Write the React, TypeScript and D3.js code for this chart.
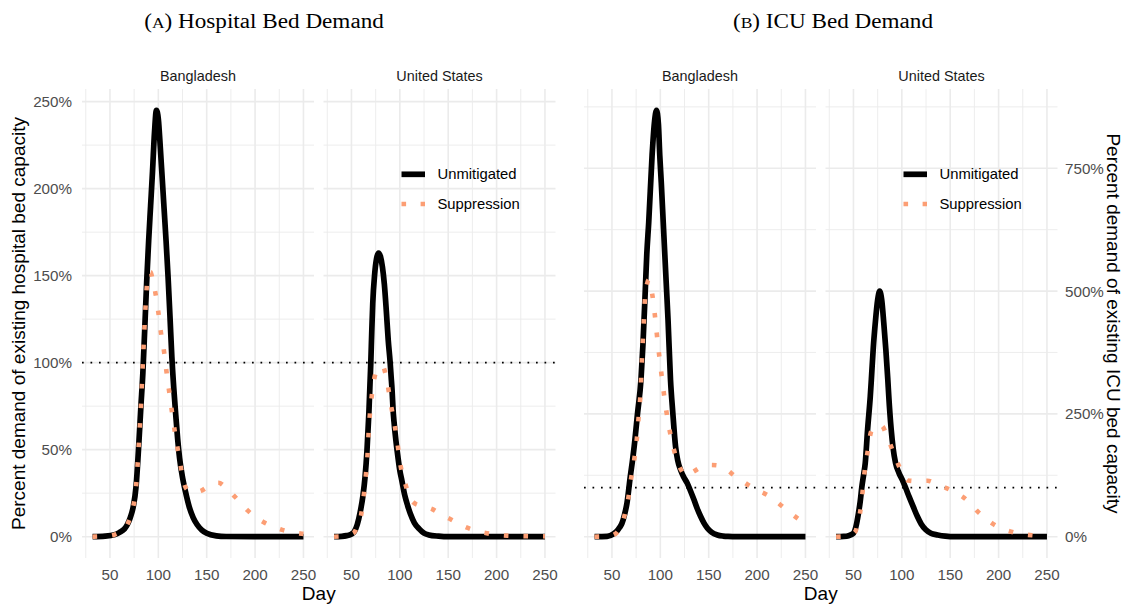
import React from "react";
import * as d3 from "d3";

// ---------------- DATA ----------------
const panelCountries = ["Bangladesh", "United States"];
const seriesNames = ["Unmitigated", "Suppression"];
const xTicks = [50, 100, 150, 200, 250];
const xMinorTicks = [25, 75, 125, 175, 225];
const hospYTicks = [0, 50, 100, 150, 200, 250];
const hospYMinor = [25, 75, 125, 175, 225];
const icuYTicks = [0, 250, 500, 750];
const icuYMinor = [125, 375, 625, 875];
const capacityLine = 100;

// (A) Hospital – Bangladesh – Unmitigated
const hospBgdUnmitDays = [32, 45, 55, 60, 65, 68, 71, 74, 77, 80, 82, 84, 86, 88, 90, 92, 94, 96, 98, 100, 102, 104, 106, 108, 110, 112, 114, 116, 118, 120, 122, 125, 128, 132, 136, 140, 145, 150, 160, 170, 200, 250];
const hospBgdUnmitPct = [0, 0.3, 1.2, 2.5, 4.5, 7, 11, 17, 29, 55, 75, 94, 120, 147, 170, 190, 210, 232, 245, 240, 224, 206, 188, 170, 150, 127, 103, 85, 70, 56, 45, 34, 26, 17, 11, 7, 3.8, 2, 0.5, 0.1, 0, 0];
// (A) Hospital – Bangladesh – Suppression
const hospBgdSuppDays = [32, 45, 55, 60, 65, 68, 71, 74, 77, 80, 82, 84, 86, 88, 90, 92, 94, 97, 100, 102.5, 106, 108.4, 111.2, 114, 117, 120.3, 123.7, 127, 131, 137, 144, 152, 162, 170, 178, 185, 192, 200, 209, 218, 228, 238, 248.5, 250];
const hospBgdSuppPct = [0, 0.3, 1.2, 2.5, 4.5, 7, 11, 17, 29, 55, 75, 100, 124, 143, 151, 152, 148, 140, 129, 118, 106, 95, 83.5, 72, 60.5, 49.5, 38.5, 30, 26.5, 25.5, 26.3, 29, 31, 28, 23.6, 19.5, 15.2, 11.5, 8.3, 6, 3.9, 2.6, 1.7, 1.6];
// (A) Hospital – United States – Unmitigated
const hospUsUnmitDays = [32, 40, 45, 50, 53, 56, 59, 62, 64, 66, 68, 70, 71, 72, 74, 76, 78, 80, 82, 84, 86, 88, 90, 91, 92, 93, 94, 96, 98, 100, 102, 105, 108, 111, 115, 120, 125, 130, 140, 150, 250];
const hospUsUnmitPct = [0, 0.2, 0.6, 1.5, 3, 7, 14, 24, 34, 49, 71, 100, 118, 134, 151, 160, 163, 161, 155, 145, 130, 113, 100, 92, 84, 73, 66, 55, 46, 38, 32.5, 24, 18, 13, 8, 4.5, 2, 1, 0.3, 0, 0];
// (A) Hospital – United States – Suppression
const hospUsSuppDays = [32, 40, 45, 50, 53, 56, 60, 62.8, 64.9, 66.6, 67.6, 69, 71.1, 74.3, 78, 82.3, 85, 87.5, 90.8, 94.6, 97.7, 100.5, 105.7, 109, 113.8, 123, 132.9, 142, 151, 160, 169.5, 180, 189.7, 200, 210.9, 231.4, 250];
const hospUsSuppPct = [0, 0.2, 0.6, 1.5, 2.5, 6, 12.5, 24, 35.5, 47, 58.5, 70, 81.5, 92.7, 97, 98, 94, 87, 75.8, 64.3, 53, 41.7, 30.3, 24.5, 19.8, 17.5, 16, 13, 10.4, 7.7, 5.2, 3.2, 2, 1.1, 0.6, 0.3, 0.2];

// (B) ICU – Bangladesh – Unmitigated
const icuBgdUnmitDays = [32, 45, 51.6, 55, 58, 60.3, 63, 65.5, 68.9, 71, 73, 76.5, 80, 82, 84.5, 86, 88, 91.5, 94, 96, 98, 99.4, 101, 103, 106.4, 108, 110.5, 112.9, 115.7, 118, 120.9, 124, 127.8, 131, 134.8, 138, 141.7, 145, 148.7, 153, 159, 165, 170, 180, 200, 250];
const icuBgdUnmitPct = [0, 0.5, 5.5, 11, 19, 27, 45, 68, 122, 152, 184, 252, 320, 390, 504, 575, 640, 777, 845, 868, 840, 777, 720, 640, 504, 440, 320, 252, 184, 155, 136, 122, 109, 94, 75, 58, 41, 28, 17, 9, 3.4, 1.2, 0.5, 0.1, 0, 0];
// (B) ICU – Bangladesh – Suppression
const icuBgdSuppDays = [32, 45, 53.4, 58, 62.7, 67.2, 70, 73.4, 75.9, 77.6, 79.3, 81.1, 82.7, 84.2, 86.3, 88.3, 90.3, 92.5, 94.9, 97, 99.4, 101.9, 104.6, 107.7, 111.6, 116.8, 121.5, 126.5, 134, 143.5, 152, 161.1, 169, 176.7, 185, 193.4, 202, 211.4, 219, 227.7, 236, 244, 250];
const icuBgdSuppPct = [0, 0.5, 5.5, 18, 41, 82, 121, 162, 203, 244, 285, 366, 430, 488, 515, 523, 508, 482, 441, 400.6, 359.7, 318.8, 278, 237, 197.6, 158, 136, 124, 132, 143, 146, 144.5, 136, 124, 113, 102, 93, 84, 73, 59, 46, 34, 26];
// (B) ICU – United States – Unmitigated
const icuUsUnmitDays = [32, 40, 45, 50, 52.5, 55.2, 57, 58.7, 60.5, 62.2, 64.6, 67.4, 68.5, 70.5, 72.6, 75, 77.1, 79.2, 81.3, 83.5, 85.5, 86.5, 89, 91, 93.5, 97, 100.4, 104, 107.4, 112, 116.1, 120, 124.8, 130, 137, 145, 150, 160, 250];
const icuUsUnmitPct = [0, 0.5, 2, 7, 20, 48, 72, 102, 126, 150, 218, 286, 320, 385, 436, 482, 500, 482, 436, 380, 320, 286, 218, 180, 150, 130, 116, 99, 82, 60, 41, 26, 14, 7, 3.5, 1, 0.3, 0, 0];
// (B) ICU – United States – Suppression
const icuUsSuppDays = [32, 40, 45, 51.8, 54.5, 57, 59.4, 61.5, 64.6, 68.1, 72, 76, 79.9, 84, 88.3, 92, 95.9, 101, 106.4, 116, 126.5, 136, 146, 155, 164.4, 172, 179, 187, 195, 204, 214.2, 225, 235, 250];
const icuUsSuppPct = [0, 0.5, 2, 10, 28, 51, 91, 131.6, 172.5, 213, 224, 228, 225, 208, 187, 167, 148.6, 128, 114.5, 113, 114, 107, 99, 90, 79, 65, 50, 37, 25, 16, 9.6, 5, 2.8, 1];

// ---------------- LAYOUT ----------------
const W = 1125;
const H = 609;
const panelTop = 89;
const panelBottom = 558;
const panelW = 232;
const SANS = "'Liberation Sans', Arial, Helvetica, sans-serif";
const SERIF = "'Liberation Serif', 'Times New Roman', serif";
const GRID = "#ebebeb";
const SUPP_COLOR = "#fc9e74";
const TICK_COLOR = "#4d4d4d";
const TICK_SIZE = 15.2;
const TITLE_SIZE = 19;

type Pt = [number, number];
const zip = (a: number[], b: number[]): Pt[] => a.map((d, i) => [d, b[i]] as Pt);

const hospSeries = [
  { unmit: zip(hospBgdUnmitDays, hospBgdUnmitPct), supp: zip(hospBgdSuppDays, hospBgdSuppPct) },
  { unmit: zip(hospUsUnmitDays, hospUsUnmitPct), supp: zip(hospUsSuppDays, hospUsSuppPct) },
];
const icuSeries = [
  { unmit: zip(icuBgdUnmitDays, icuBgdUnmitPct), supp: zip(icuBgdSuppDays, icuBgdSuppPct) },
  { unmit: zip(icuUsUnmitDays, icuUsUnmitPct), supp: zip(icuUsSuppDays, icuUsSuppPct) },
];

function expand(lo: number, hi: number): [number, number] {
  const r = hi - lo;
  return [lo - 0.05 * r, hi + 0.05 * r];
}

const allDays = [...hospBgdUnmitDays, ...hospUsUnmitDays, ...icuBgdUnmitDays, ...icuUsUnmitDays];
const xDomain = expand(d3.min(allDays)!, d3.max(allDays)!);

const hospMax = d3.max([...hospBgdUnmitPct, ...hospBgdSuppPct, ...hospUsUnmitPct, ...hospUsSuppPct])!;
const icuMax = d3.max([...icuBgdUnmitPct, ...icuBgdSuppPct, ...icuUsUnmitPct, ...icuUsSuppPct])!;

const yHosp = d3.scaleLinear().domain(expand(0, hospMax)).range([panelBottom, panelTop]);
const yIcu = d3.scaleLinear().domain(expand(0, icuMax)).range([panelBottom, panelTop]);

const groupA = [82, 323.5];
const groupB = [584, 825.5];

function Panel({ left, label, series, y, yTicks, yMinor, showLegend }: any) {
  const x = d3.scaleLinear().domain(xDomain).range([left, left + panelW]);
  const line = d3
    .line<Pt>()
    .x((d) => x(d[0]))
    .y((d) => y(d[1]))
    .curve(d3.curveMonotoneX);
  const right = left + panelW;
  return (
    <g>
      {yMinor.filter((v: number) => y(v) > panelTop && y(v) < panelBottom).map((v: number) => (
        <line key={"ym" + v} x1={left} x2={right} y1={y(v)} y2={y(v)} stroke={GRID} strokeWidth={0.9} />
      ))}
      {xMinorTicks.filter((v) => x(v) > left && x(v) < right).map((v) => (
        <line key={"xm" + v} x1={x(v)} x2={x(v)} y1={panelTop} y2={panelBottom} stroke={GRID} strokeWidth={0.9} />
      ))}
      {yTicks.map((v: number) => (
        <line key={"y" + v} x1={left} x2={right} y1={y(v)} y2={y(v)} stroke={GRID} strokeWidth={1.6} />
      ))}
      {xTicks.map((v) => (
        <line key={"x" + v} x1={x(v)} x2={x(v)} y1={panelTop} y2={panelBottom} stroke={GRID} strokeWidth={1.6} />
      ))}
      <line
        x1={left}
        x2={right}
        y1={y(capacityLine)}
        y2={y(capacityLine)}
        stroke="#000"
        strokeWidth={1.7}
        strokeDasharray="1.7 6.8"
      />
      <path d={line(series.unmit) || ""} fill="none" stroke="#000" strokeWidth={5.7} strokeLinejoin="round" />
      <path d={line(series.supp) || ""} fill="none" stroke={SUPP_COLOR} strokeWidth={4.6} strokeDasharray="4.6 15" />
      {xTicks.map((v) => (
        <text key={"xt" + v} x={x(v)} y={579.5} textAnchor="middle" fontFamily={SANS} fontSize={TICK_SIZE} fill={TICK_COLOR}>
          {v}
        </text>
      ))}
      <text x={(left + right) / 2} y={81} textAnchor="middle" fontFamily={SANS} fontSize={14.4} fill="#1a1a1a">
        {label}
      </text>
      {showLegend && (
        <g>
          <line x1={left + 78} x2={left + 101.5} y1={174.3} y2={174.3} stroke="#000" strokeWidth={5.7} />
          <text x={left + 114} y={174.3} dominantBaseline="central" fontFamily={SANS} fontSize={14.8} fill="#000">
            {seriesNames[0]}
          </text>
          <line
            x1={left + 78}
            x2={left + 101.5}
            y1={204}
            y2={204}
            stroke={SUPP_COLOR}
            strokeWidth={4.6}
            strokeDasharray="4.6 14.5"
          />
          <text x={left + 114} y={204} dominantBaseline="central" fontFamily={SANS} fontSize={14.8} fill="#000">
            {seriesNames[1]}
          </text>
        </g>
      )}
    </g>
  );
}

export default function App() {
  const fmt = (v: number) => `${v}%`;
  const midY = (panelTop + panelBottom) / 2;
  const aCenter = (groupA[0] + groupA[1] + panelW) / 2;
  const bCenter = (groupB[0] + groupB[1] + panelW) / 2;
  return (
    <svg
      width={W}
      height={H}
      viewBox={`0 0 ${W} ${H}`}
      style={{ position: "absolute", left: 0, top: 0, background: "#fff", display: "block" }}
    >
      <rect x={0} y={0} width={W} height={H} fill="#fff" />
      {/* Titles */}
      <text transform="translate(264,28) scale(1.13,1)" textAnchor="middle" fontFamily={SERIF} fontSize={20.5} fill="#000">
        (<tspan fontSize={15.5}>A</tspan>) Hospital Bed Demand
      </text>
      <text transform="translate(833,28) scale(1.13,1)" textAnchor="middle" fontFamily={SERIF} fontSize={20.5} fill="#000">
        (<tspan fontSize={15.5}>B</tspan>) ICU Bed Demand
      </text>

      {/* Panels A */}
      {groupA.map((left, i) => (
        <Panel
          key={"a" + i}
          left={left}
          label={panelCountries[i]}
          series={hospSeries[i]}
          y={yHosp}
          yTicks={hospYTicks}
          yMinor={hospYMinor}
          showLegend={i === 1}
        />
      ))}
      {/* Panels B */}
      {groupB.map((left, i) => (
        <Panel
          key={"b" + i}
          left={left}
          label={panelCountries[i]}
          series={icuSeries[i]}
          y={yIcu}
          yTicks={icuYTicks}
          yMinor={icuYMinor}
          showLegend={i === 1}
        />
      ))}

      {/* Left y axis labels */}
      {hospYTicks.map((v) => (
        <text key={"hl" + v} x={72} y={yHosp(v)} dominantBaseline="central" textAnchor="end" fontFamily={SANS} fontSize={TICK_SIZE} fill={TICK_COLOR}>
          {fmt(v)}
        </text>
      ))}
      {/* Right y axis labels */}
      {icuYTicks.map((v) => (
        <text key={"il" + v} x={1065} y={yIcu(v)} dominantBaseline="central" textAnchor="start" fontFamily={SANS} fontSize={TICK_SIZE} fill={TICK_COLOR}>
          {fmt(v)}
        </text>
      ))}

      {/* Axis titles */}
      <text
        transform={`translate(18,${midY}) rotate(-90)`}
        textAnchor="middle"
        dominantBaseline="central"
        fontFamily={SANS}
        fontSize={TITLE_SIZE}
        fill="#000"
      >
        Percent demand of existing hospital bed capacity
      </text>
      <text
        transform={`translate(1113,${midY}) rotate(90)`}
        textAnchor="middle"
        dominantBaseline="central"
        fontFamily={SANS}
        fontSize={TITLE_SIZE}
        fill="#000"
      >
        Percent demand of existing ICU bed capacity
      </text>
      <text x={aCenter} y={600} textAnchor="middle" fontFamily={SANS} fontSize={TITLE_SIZE} fill="#000">
        Day
      </text>
      <text x={bCenter} y={600} textAnchor="middle" fontFamily={SANS} fontSize={TITLE_SIZE} fill="#000">
        Day
      </text>
    </svg>
  );
}
